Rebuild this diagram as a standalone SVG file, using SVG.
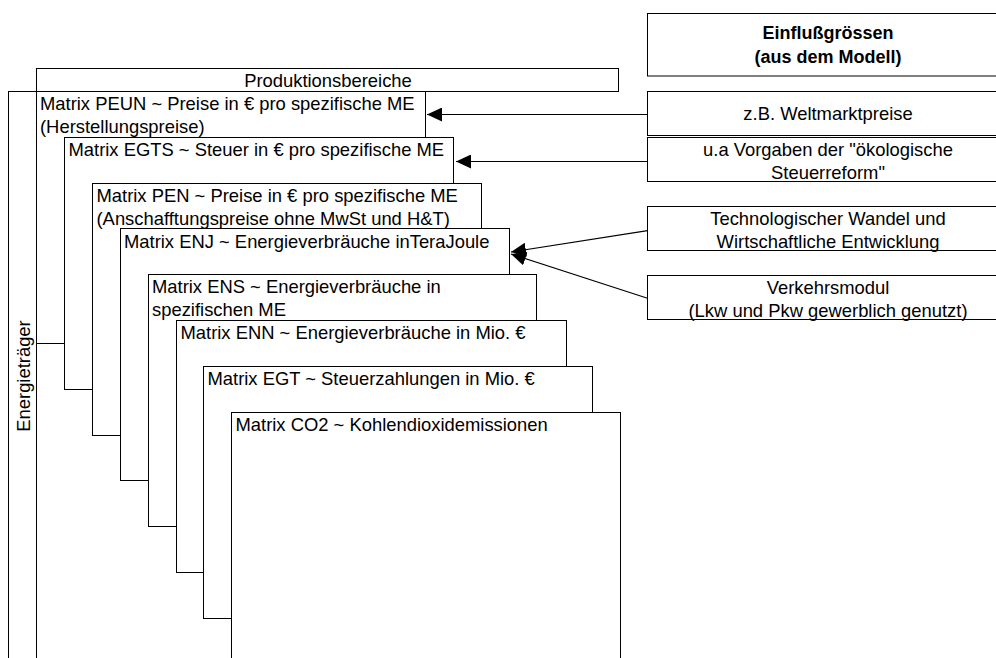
<svg xmlns="http://www.w3.org/2000/svg" width="996" height="658" viewBox="0 0 996 658">
<style>
.box{fill:#fff;stroke:#000;stroke-width:1}
.t{font-family:"Liberation Sans",Arial,sans-serif;font-size:18.4px;fill:#000}
.c{text-anchor:middle}
.b{font-weight:bold;font-size:18px}
.con{stroke:#000;stroke-width:1.2;fill:none}
</style>
<defs>
<marker id="ah" markerUnits="userSpaceOnUse" markerWidth="15" markerHeight="14" viewBox="0 0 15 14" refX="15" refY="7" orient="auto">
<path d="M0,0 L15,7 L0,14 z" fill="#000"/>
</marker>
</defs>
<rect width="996" height="658" fill="#fff"/>
<g id="energietraeger">
<rect class="box" x="8.5" y="91.5" width="28" height="600"/>
<text class="t c" transform="translate(30,376) rotate(-90)">Energieträger</text>
</g>
<g id="produktionsbereiche">
<rect class="box" x="36.5" y="68.5" width="582" height="23"/>
<text class="t c" x="328" y="87">Produktionsbereiche</text>
</g>
<g id="peun">
<rect class="box" x="36.5" y="91.5" width="389" height="252"/>
<text class="t" x="40" y="109.5">Matrix PEUN ~ Preise in € pro spezifische ME</text>
<text class="t" x="40" y="132.5">(Herstellungspreise)</text>
</g>
<g id="egts">
<rect class="box" x="64.5" y="137.5" width="389" height="252"/>
<text class="t" x="68.5" y="156">Matrix EGTS ~ Steuer in € pro spezifische ME</text>
</g>
<g id="pen">
<rect class="box" x="92.5" y="183.5" width="389" height="252"/>
<text class="t" x="96.5" y="201.5">Matrix PEN ~ Preise in € pro spezifische ME</text>
<text class="t" x="96.5" y="224.5">(Anschafftungspreise ohne MwSt und H&amp;T)</text>
</g>
<g id="enj">
<rect class="box" x="120.5" y="228.5" width="389" height="252"/>
<text class="t" x="124" y="247.5">Matrix ENJ ~ Energieverbräuche inTeraJoule</text>
</g>
<g id="ens">
<rect class="box" x="148.5" y="274.5" width="388" height="252"/>
<text class="t" x="152" y="293">Matrix ENS ~ Energieverbräuche in</text>
<text class="t" x="152" y="316">spezifischen ME</text>
</g>
<g id="enn">
<rect class="box" x="176.5" y="320.5" width="390" height="252"/>
<text class="t" x="180.5" y="339">Matrix ENN ~ Energieverbräuche in Mio. €</text>
</g>
<g id="egt">
<rect class="box" x="203.5" y="366.5" width="389" height="252"/>
<text class="t" x="207.5" y="385">Matrix EGT ~ Steuerzahlungen in Mio. €</text>
</g>
<g id="co2">
<rect class="box" x="231.5" y="412.5" width="389" height="252"/>
<text class="t" x="235.5" y="431">Matrix CO2 ~ Kohlendioxidemissionen</text>
</g>
<g id="einflussgroessen">
<rect class="box" x="647.5" y="13.5" width="365" height="62.5"/>
<text class="t c b" x="828" y="39">Einflußgrössen</text>
<text class="t c b" x="828" y="63">(aus dem Modell)</text>
</g>
<g id="weltmarktpreise">
<rect class="box" x="647.5" y="91.5" width="365" height="44"/>
<text class="t c" x="828" y="119.5">z.B. Weltmarktpreise</text>
</g>
<g id="vorgaben">
<rect class="box" x="647.5" y="137.5" width="365" height="44"/>
<text class="t c" x="828" y="156">u.a Vorgaben der "ökologische</text>
<text class="t c" x="828" y="178.5">Steuerreform"</text>
</g>
<g id="technologie">
<rect class="box" x="647.5" y="206.5" width="365" height="44"/>
<text class="t c" x="828" y="225">Technologischer Wandel und</text>
<text class="t c" x="828" y="248">Wirtschaftliche Entwicklung</text>
</g>
<g id="verkehrsmodul">
<rect class="box" x="647.5" y="275.5" width="365" height="44"/>
<text class="t c" x="828" y="294">Verkehrsmodul</text>
<text class="t c" x="828" y="316.5">(Lkw und Pkw gewerblich genutzt)</text>
</g>
<g id="connectors">
<path class="con" d="M647.5,114.5 H427" marker-end="url(#ah)"/>
<path class="con" d="M647.5,161.5 H456" marker-end="url(#ah)"/>
<path class="con" d="M647.5,230.7 L511,252" marker-end="url(#ah)"/>
<path class="con" d="M647.5,298.3 L511,254" marker-end="url(#ah)"/>
</g>
</svg>
